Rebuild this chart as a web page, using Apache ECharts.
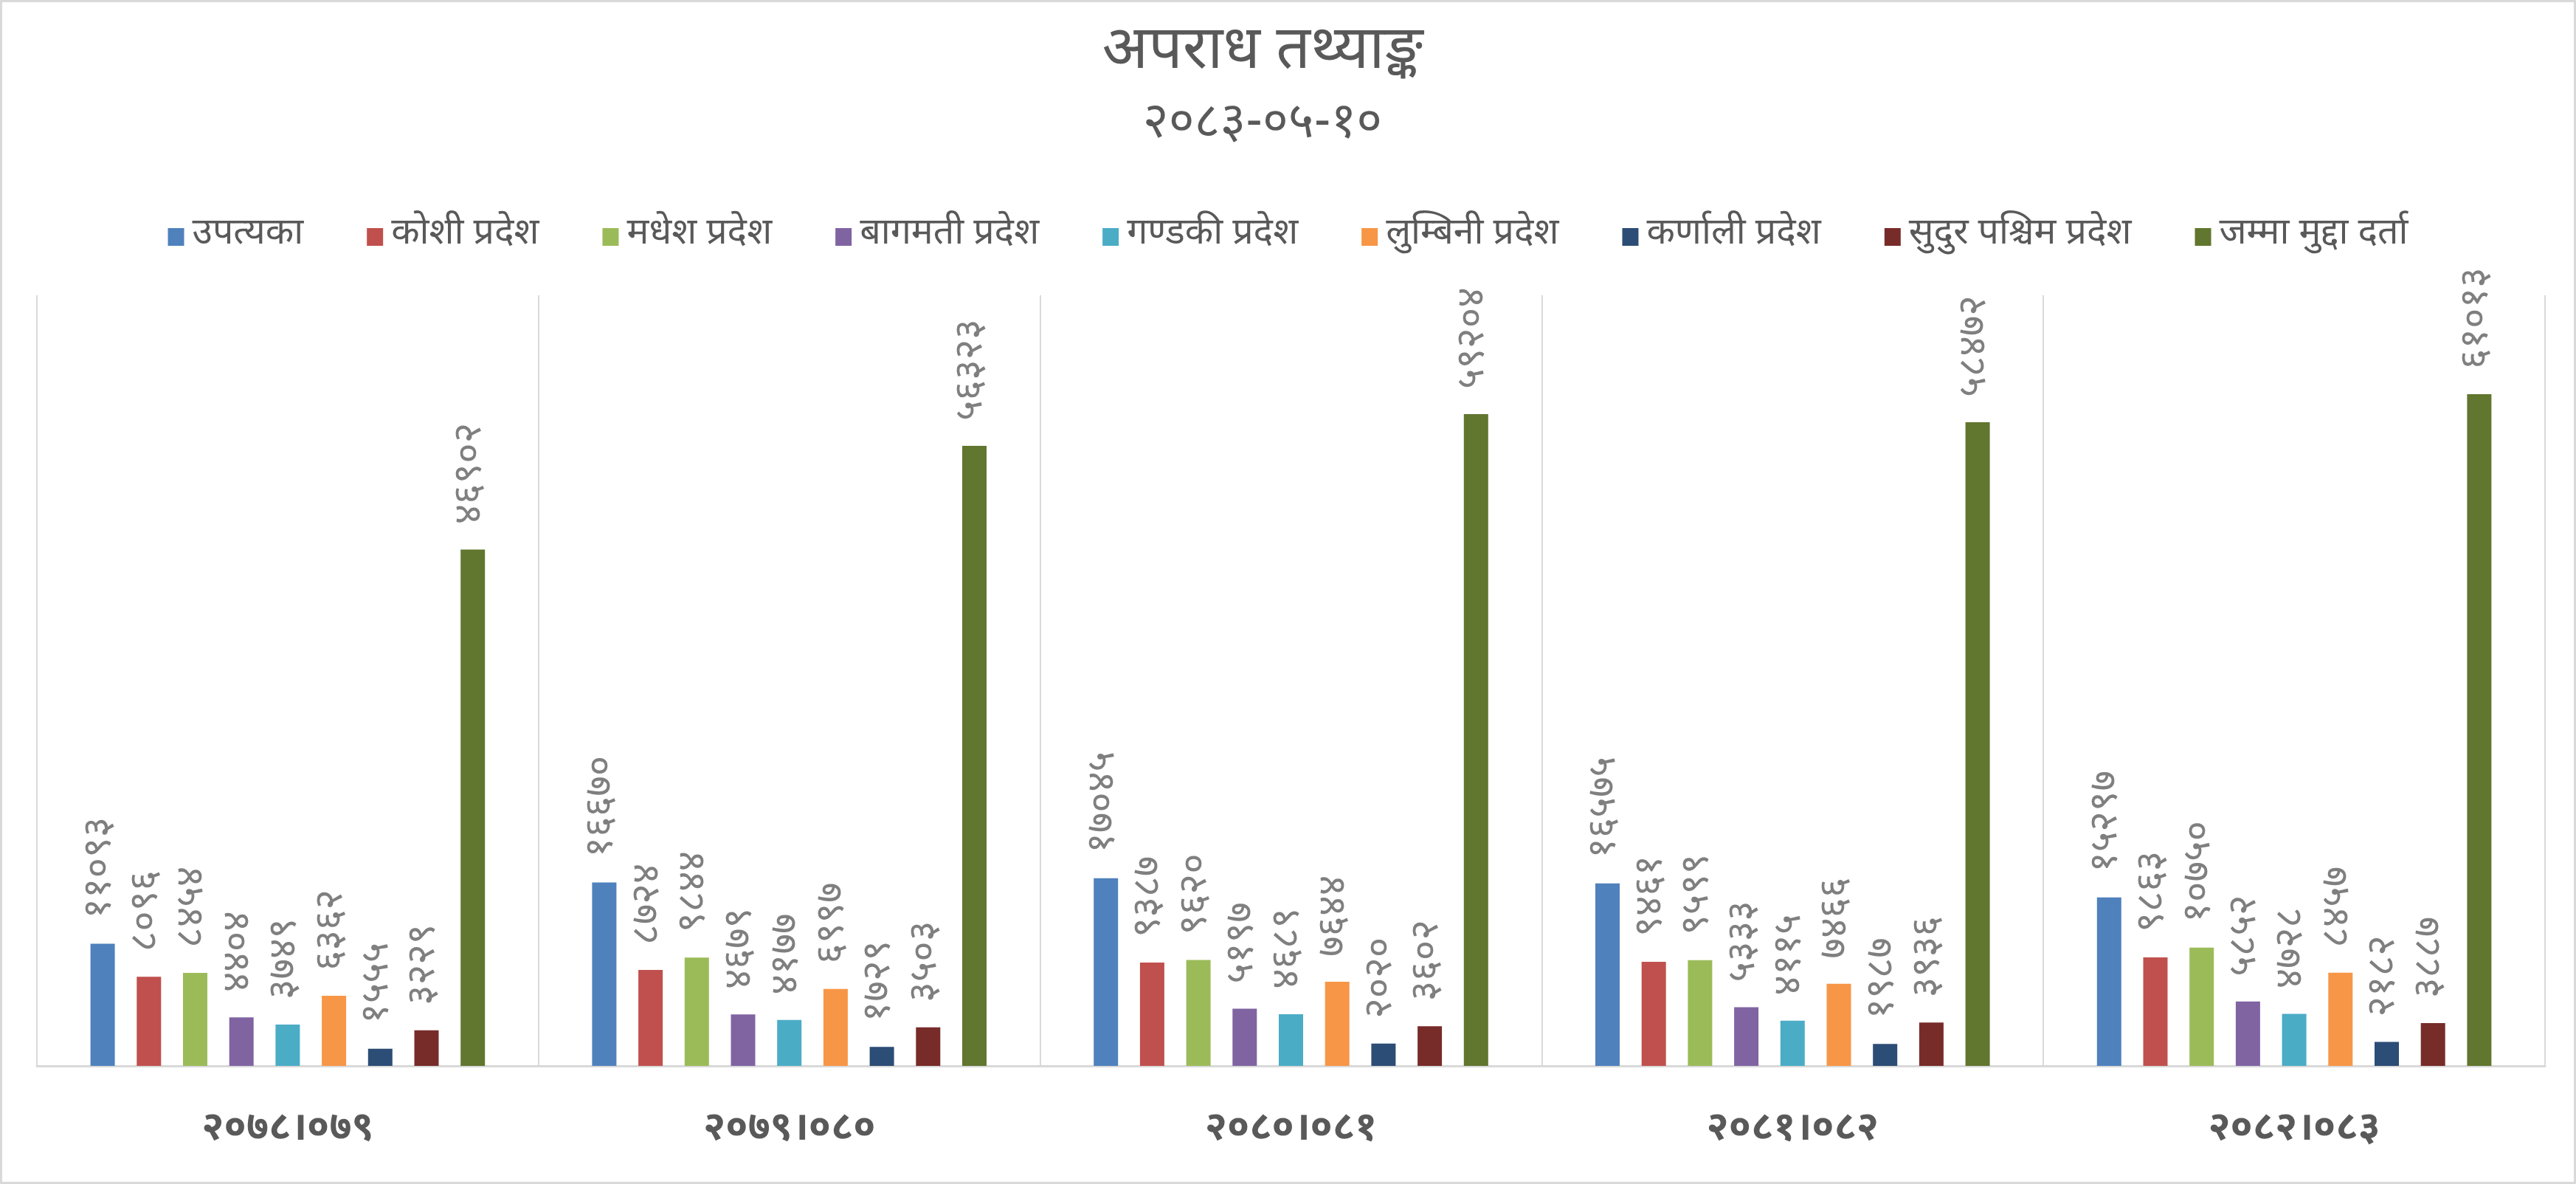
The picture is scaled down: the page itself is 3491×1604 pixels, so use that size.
<!DOCTYPE html>
<html>
<head>
<meta charset="utf-8">
<script src="https://cdn.jsdelivr.net/npm/echarts@6/dist/echarts.min.js"></script>
<style>
  html, body { margin: 0; padding: 0; background: #fff; }
  #chart { width: 3491px; height: 1604px; box-sizing: border-box; border: 3px solid #d9d9d9; }
</style>
</head>
<body>
<div id="chart"></div>
<script>
// वर्ष (x अक्ष)
var years = ['२०७८।०७९', '२०७९।०८०', '२०८०।०८१', '२०८१।०८२', '२०८२।०८३'];

// शृङ्खला नामहरू
var seriesNames = ['उपत्यका', 'कोशी प्रदेश', 'मधेश प्रदेश', 'बागमती प्रदेश', 'गण्डकी प्रदेश',
    'लुम्बिनी प्रदेश', 'कर्णाली प्रदेश', 'सुदुर पश्चिम प्रदेश', 'जम्मा मुद्दा दर्ता'];

// मुद्दा संख्या, वर्ष अनुसार
var upatyaka = [11093, 16670, 17045, 16575, 15297];
var koshi = [8096, 8724, 9387, 9461, 9863];
var madhesh = [8454, 9844, 9620, 9599, 10750];
var bagmati = [4404, 4679, 5197, 5333, 5852];
var gandaki = [3749, 4177, 4689, 4115, 4728];
var lumbini = [6362, 6997, 7644, 7466, 8457];
var karnali = [1555, 1729, 2020, 1987, 2182];
var sudur = [3229, 3503, 3602, 3936, 3887];
var jamma = [46902, 56323, 59204, 58472, 61013];

var seriesData = [upatyaka, koshi, madhesh, bagmati, gandaki, lumbini, karnali, sudur, jamma];
var colors = ['#4F81BD', '#C0504D', '#9BBB59', '#8064A2', '#4BACC6', '#F79646', '#2C4D75', '#772C2A', '#61762F'];

var font = "'Noto Sans Devanagari', 'Noto Sans', sans-serif";
var devDigits = ['०', '१', '२', '३', '४', '५', '६', '७', '८', '९'];
function toDev(n) {
    return String(n).replace(/[0-9]/g, function (d) { return devDigits[+d]; });
}

var myChart = echarts.init(document.getElementById('chart'));

var series = seriesNames.map(function (name, i) {
    return {
        name: name,
        type: 'bar',
        barWidth: 33,
        barGap: '90%',
        itemStyle: {color: colors[i]},
        label: {
            show: true,
            position: 'top',
            rotate: 90,
            align: 'left',
            verticalAlign: 'middle',
            distance: 34,
            color: '#7f7f7f',
            fontSize: 53,
            fontFamily: font,
            formatter: function (p) { return toDev(p.value); }
        },
        data: seriesData[i]
    };
});

option = {
    color: colors,
    animation: false,
    graphic: [
        {
            type: 'text', x: 1708, y: 74,
            style: {text: 'अपराध तथ्याङ्क', fill: '#595959', font: '82px ' + font,
                textAlign: 'center', textVerticalAlign: 'middle'}
        },
        {
            type: 'text', x: 1708, y: 170,
            style: {text: '२०८३-०५-१०', fill: '#595959', font: '67px ' + font,
                textAlign: 'center', textVerticalAlign: 'middle'}
        }
    ],
    legend: {
        top: 288,
        left: 'center',
        itemWidth: 22,
        itemHeight: 24,
        itemGap: 86,
        icon: 'rect',
        textStyle: {color: '#595959', fontSize: 50, fontFamily: font, padding: [0, 0, 0, 6]},
        data: seriesNames
    },
    grid: {left: 47, right: 39, top: 397, bottom: 157},
    xAxis: {
        type: 'category',
        data: years,
        axisLine: {lineStyle: {color: '#d9d9d9', width: 3}},
        axisTick: {show: false},
        splitLine: {show: true, lineStyle: {color: '#d9d9d9', width: 2}},
        axisLabel: {
            color: '#595959', fontSize: 54, fontWeight: 'bold', fontFamily: font, margin: 63
        }
    },
    yAxis: {
        type: 'value',
        min: 0,
        max: 70000,
        show: false,
        splitLine: {show: false}
    },
    series: series
};

myChart.setOption(option);
</script>
</body>
</html>
